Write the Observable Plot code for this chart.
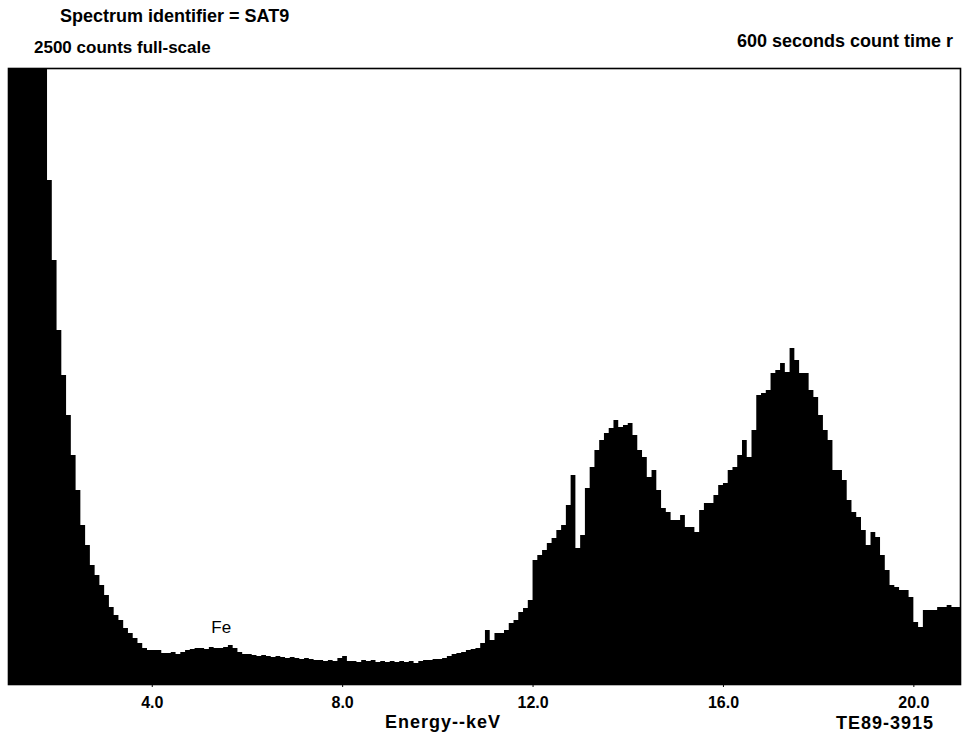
<!DOCTYPE html>
<html><head><meta charset="utf-8">
<script src="https://cdn.jsdelivr.net/npm/d3@7"></script>
<script src="https://cdn.jsdelivr.net/npm/@observablehq/plot@0.6"></script>
<style>
body{margin:0;background:#fff;}
#wrap{position:relative;width:966px;height:736px;font-family:"Liberation Sans",Arial,Helvetica,sans-serif;font-weight:bold;color:#000;}
.t{position:absolute;white-space:nowrap;line-height:1;}
#header{height:60px;}
#chart svg{display:block;}
</style></head><body>
<div id="wrap">
  <div id="header">
    <span class="t" id="title" style="left:60px;top:7px;font-size:18px;"></span>
    <span class="t" id="scale" style="left:34px;top:38.5px;font-size:17px;"></span>
    <span class="t" id="time" style="right:13px;top:32px;font-size:18px;"></span>
  </div>
  <div id="chart"></div>
  <span class="t" id="axisTitle" style="left:385px;top:713px;font-size:18px;letter-spacing:1px;"></span>
  <span class="t" id="figId" style="right:32px;top:714px;font-size:18px;letter-spacing:1px;"></span>
</div>
<script>
// ---- texts ----
const titleText = "Spectrum identifier = SAT9";
const scaleText = "2500 counts full-scale";
const timeText = "600 seconds count time r";
const axisTitleText = "Energy--keV";
const figureIdText = "TE89-3915";

// ---- spectrum: counts per 0.1 keV channel, starting at 0.9 keV ----
const binStart = 0.9;
const binWidth = 0.1;
const counts = [
  2800, 2800, 2800, 2800, 2800, 2800, 2800, 2800, 2600, 2045, // 0.9 - 1.8
  1721, 1437, 1254, 1092, 929, 787, 645, 564, 483, 442,        // 1.9 - 2.8
  402, 361, 312, 280, 260, 227, 207, 187, 166, 146,            // 2.9 - 3.8
  138, 138, 138, 126, 126, 130, 122, 130, 138, 142,            // 3.9 - 4.8
  146, 146, 142, 150, 146, 146, 150, 158, 146, 130,            // 4.9 - 5.8
  122, 122, 118, 114, 118, 114, 110, 114, 110, 106,            // 5.9 - 6.8
  110, 106, 101, 106, 101, 97, 97, 93, 97, 93,                 // 6.9 - 7.8
  106, 114, 93, 93, 89, 97, 93, 97, 89, 93,                    // 7.9 - 8.8
  89, 93, 89, 93, 89, 93, 85, 93, 97, 97,                      // 8.9 - 9.8
  101, 101, 106, 114, 122, 126, 130, 138, 142, 146,            // 9.9 - 10.8
  166, 219, 179, 207, 207, 219, 248, 260, 292, 308,            // 10.9 - 11.8
  341, 503, 524, 544, 572, 593, 625, 645, 726, 848,            // 11.9 - 12.8
  552, 605, 795, 881, 950, 990, 1019, 1039, 1071, 1043,        // 12.9 - 13.8
  1051, 1059, 1011, 950, 921, 840, 869, 787, 714, 698,         // 13.9 - 14.8
  666, 666, 686, 637, 637, 617, 706, 735, 735, 767,            // 14.9 - 15.8
  808, 816, 869, 881, 929, 990, 921, 1031, 1173, 1181,         // 15.9 - 16.8
  1193, 1262, 1274, 1303, 1266, 1364, 1315, 1262, 1262, 1193,  // 16.9 - 17.8
  1165, 1092, 1031, 990, 869, 869, 828, 747, 698, 678,         // 17.9 - 18.8
  625, 564, 617, 597, 524, 463, 402, 394, 381, 381,            // 18.9 - 19.8
  353, 252, 231, 300, 300, 300, 312, 312, 321, 312,            // 19.9 - 20.8
  312                                                          // 20.9
];

// ---- axes ----
const energyDomain = [0.98, 20.98];
const fullScale = 2500;
const tickValues = [4, 8, 12, 16, 20];

// ---- peak labels ----
const peakLabels = ["Fe"];
const peakEnergies = [5.45];
const peakCounts = [231];

document.getElementById("title").textContent = titleText;
document.getElementById("scale").textContent = scaleText;
document.getElementById("time").textContent = timeText;
document.getElementById("axisTitle").textContent = axisTitleText;
document.getElementById("figId").textContent = figureIdText;

const spectrum = counts.map((c, i) => ({e: +(binStart + i * binWidth).toFixed(2), c}));
spectrum.push({e: +(binStart + counts.length * binWidth).toFixed(2), c: counts[counts.length - 1]});
const labels = peakLabels.map((label, i) => ({label, e: peakEnergies[i], c: peakCounts[i]}));

const chart = Plot.plot({
  width: 966,
  height: 656,
  marginTop: 8,
  marginBottom: 32,
  marginLeft: 8,
  marginRight: 6,
  style: {fontFamily: '"Liberation Sans", Arial, Helvetica, sans-serif', background: "#fff", color: "#000"},
  x: {domain: energyDomain},
  y: {domain: [0, fullScale]},
  marks: [
    Plot.areaY(spectrum, {x: "e", y: "c", curve: "step-after", fill: "#000", clip: true}),
    Plot.text(labels, {x: "e", y: "c", text: "label", fontSize: 17, fontWeight: "normal", fill: "#000"}),
    Plot.frame({stroke: "#000", strokeWidth: 1.6}),
    Plot.axisX({ticks: tickValues, tickFormat: d => d.toFixed(1), tickSize: 3, tickPadding: 9,
                fontSize: 16, fontWeight: "bold", label: null, stroke: "#000"}),
    Plot.axisY({ticks: [], label: null})
  ]
});
document.getElementById("chart").appendChild(chart);
</script>
</body></html>
